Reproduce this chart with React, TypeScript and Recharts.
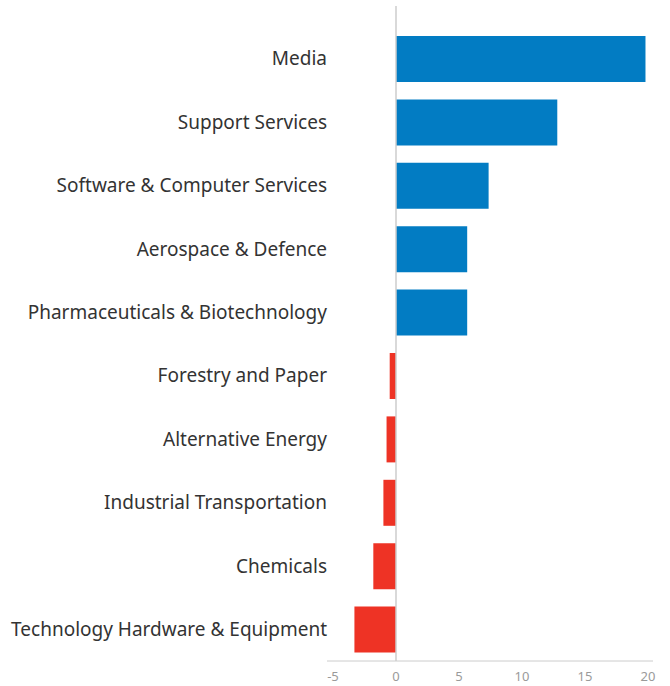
import React from 'react';
import { BarChart, Bar, XAxis, YAxis, Cell, ReferenceLine } from 'recharts';

const sectors = [
  'Media',
  'Support Services',
  'Software & Computer Services',
  'Aerospace & Defence',
  'Pharmaceuticals & Biotechnology',
  'Forestry and Paper',
  'Alternative Energy',
  'Industrial Transportation',
  'Chemicals',
  'Technology Hardware & Equipment',
];

const changes = [19.8, 12.8, 7.35, 5.65, 5.65, -0.5, -0.75, -1.0, -1.8, -3.3];

const xTicks = [-5, 0, 5, 10, 15, 20];

const BLUE = '#027CC3';
const RED = '#EE3325';

const data = sectors.map((name, i) => ({ name, value: changes[i] }));

export default function App() {
  return (
    <div style={{ position: 'absolute', left: 0, top: 0 }}>
      <BarChart
        width={670}
        height={686}
        data={data}
        layout="vertical"
        margin={{ top: 6, right: 17, bottom: 0, left: 0 }}
      >
        <XAxis
          type="number"
          domain={[-5, 20]}
          ticks={xTicks}
          padding={{ left: 6, right: 5 }}
          height={25}
          tickLine={false}
          tickMargin={5}
          stroke="#cccccc"
          tick={{ fill: '#9a9a9a', fontSize: 13, fontFamily: 'Noto Sans' }}
        />
        <YAxis
          type="category"
          dataKey="name"
          width={327}
          axisLine={false}
          tickLine={false}
          tickSize={0}
          tickMargin={0}
          interval={0}
          padding={{ top: 21, bottom: 0 }}
          tick={{ fill: '#333333', fontSize: 19, fontFamily: 'Noto Sans' }}
        />
        <ReferenceLine x={0} stroke="#cccccc" strokeWidth={1.5} />
        <Bar dataKey="value" barSize={46} isAnimationActive={false}>
          {data.map((d, i) => (
            <Cell key={`cell-${i}`} fill={d.value >= 0 ? BLUE : RED} />
          ))}
        </Bar>
      </BarChart>
    </div>
  );
}
